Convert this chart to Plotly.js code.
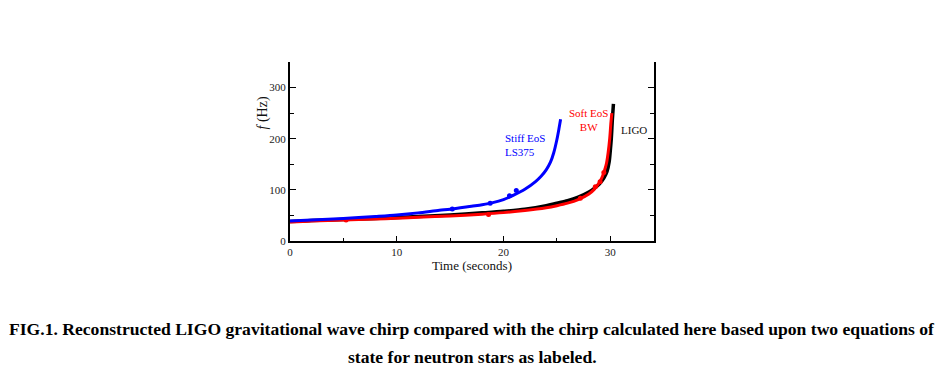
<!DOCTYPE html>
<html>
<head>
<meta charset="utf-8">
<script src="https://cdn.plot.ly/plotly-3.0.1.min.js"></script>
<style>
  html, body { margin: 0; padding: 0; background: #fff; }
  #chart { width: 948px; height: 374px; }
</style>
</head>
<body>
<div id="chart"></div>
<script>
// LIGO reconstructed chirp
const ligoT = [0, 2, 5, 8, 10, 12, 15, 18, 20, 22, 24, 25, 26, 27, 28, 28.5, 29, 29.4, 29.7, 29.9, 30.0, 30.1, 30.2, 30.3];
const ligoF = [38, 40, 42, 44, 46, 48, 51, 55, 58, 62, 69, 74, 79, 86, 96, 103, 112, 123, 136, 155, 175, 200, 238, 268];

// Soft EoS BW
const softT = [0, 2, 5, 8, 10, 12, 15, 18, 20, 22, 24, 25, 26, 27, 28, 28.5, 28.9, 29.2, 29.45, 29.65, 29.8, 29.95, 30.05, 30.15];
const softF = [37, 39, 41, 43, 44.5, 46.5, 49, 52.5, 55.5, 59.5, 65, 69, 74, 81, 92, 101, 112, 123, 137, 152, 172, 200, 228, 250];
const softPtT = [5.25, 18.6, 27.2, 28.6, 29.05, 29.4];
const softPtF = [41, 52, 83.5, 106, 116, 134];

// Stiff EoS LS375
const stiffT = [0, 2, 5, 8, 10, 12, 14, 15, 17, 18, 19, 20, 21, 22, 23, 23.5, 24, 24.4, 24.7, 25.0, 25.2, 25.35];
const stiffF = [39, 41, 44, 48, 51, 55, 60, 62, 68, 71, 75, 81, 90, 101, 116, 126, 139, 154, 172, 198, 220, 238];
const stiffPtT = [15.2, 18.75, 20.56, 21.2];
const stiffPtF = [62.5, 73.7, 88.7, 98.5];

const serif = "Liberation Serif, Times New Roman, serif";

const traces = [
  {x: ligoT, y: ligoF, mode: 'lines', line: {color: '#000000', width: 3.5, shape: 'spline', smoothing: 0.8}, hoverinfo: 'skip'},
  {x: softT, y: softF, mode: 'lines', line: {color: '#ff0000', width: 3, shape: 'spline', smoothing: 0.8}, hoverinfo: 'skip'},
  {x: softPtT, y: softPtF, mode: 'markers', marker: {color: '#ff0000', size: 5}, hoverinfo: 'skip'},
  {x: stiffT, y: stiffF, mode: 'lines', line: {color: '#0000ff', width: 3, shape: 'spline', smoothing: 0.8}, hoverinfo: 'skip'},
  {x: stiffPtT, y: stiffPtF, mode: 'markers', marker: {color: '#0000ff', size: 5}, hoverinfo: 'skip'}
];

const layout = {
  width: 948, height: 374,
  showlegend: false,
  paper_bgcolor: '#ffffff', plot_bgcolor: '#ffffff',
  margin: {l: 290, r: 294, t: 62, b: 133},
  font: {family: serif, color: '#222', size: 11},
  xaxis: {
    range: [0, 34.1], showgrid: false, zeroline: false,
    showline: true, linecolor: '#000', linewidth: 2, mirror: false,
    tickmode: 'array', tickvals: [0, 10, 20, 30], ticktext: ['0', '10', '20', '30'],
    ticks: 'inside', ticklen: 5, tickwidth: 1, tickcolor: '#000',
    minor: {tickmode: 'array', tickvals: [5, 15, 25], ticks: 'inside', ticklen: 3, tickcolor: '#000', showgrid: false},
    tickfont: {family: serif, size: 11, color: '#222'},
    title: {text: 'Time (seconds)', font: {family: serif, size: 13, color: '#111'}, standoff: 2}
  },
  yaxis: {
    range: [0, 350], showgrid: false, zeroline: false,
    showline: true, linecolor: '#000', linewidth: 2, mirror: 'ticks',
    tickmode: 'array', tickvals: [0, 100, 200, 300], ticktext: ['0', '100', '200', '300'],
    ticks: 'inside', ticklen: 6, tickwidth: 1, tickcolor: '#000',
    minor: {tickmode: 'array', tickvals: [50, 150, 250], ticks: 'inside', ticklen: 4, tickcolor: '#000', showgrid: false},
    tickfont: {family: serif, size: 11, color: '#222'}
  },
  annotations: [
    {xref: 'paper', yref: 'paper', x: -0.073, y: 0.715, xanchor: 'center', yanchor: 'middle',
     text: '<i>f</i> (Hz)', textangle: -90,
     showarrow: false, font: {family: serif, size: 14, color: '#111'}},
    {xref: 'x', yref: 'y', x: 20.0, y: 188, text: 'Stiff EoS<br>LS375', xanchor: 'left',
     align: 'left', showarrow: false, font: {family: serif, size: 11, color: '#0000ff'}},
    {xref: 'x', yref: 'y', x: 28.0, y: 236, text: 'Soft EoS<br>BW', xanchor: 'center',
     align: 'center', showarrow: false, font: {family: serif, size: 11, color: '#ff0000'}},
    {xref: 'x', yref: 'y', x: 30.8, y: 218, text: 'LIGO', xanchor: 'left',
     showarrow: false, font: {family: serif, size: 11, color: '#111'}},
    {xref: 'paper', yref: 'paper', x: 0.5, y: -0.49, yanchor: 'middle', xanchor: 'center',
     text: '<b>FIG.1. Reconstructed LIGO gravitational wave chirp compared with the chirp calculated here based upon two equations of</b>',
     showarrow: false, font: {family: serif, size: 17.6, color: '#000'}},
    {xref: 'paper', yref: 'paper', x: 0.5, y: -0.65, yanchor: 'middle', xanchor: 'center',
     text: '<b>state for neutron stars as labeled.</b>',
     showarrow: false, font: {family: serif, size: 17.6, color: '#000'}}
  ]
};

Plotly.newPlot('chart', traces, layout, {displayModeBar: false, staticPlot: true});
</script>
</body>
</html>
